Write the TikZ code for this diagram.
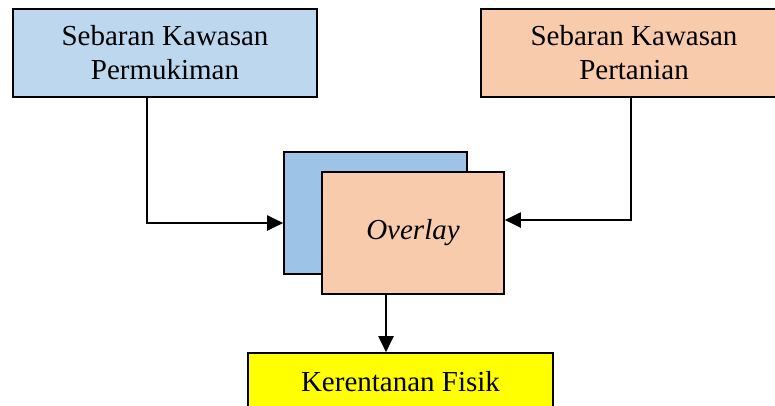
\documentclass[tikz,border=0pt]{standalone}
\usepackage{fontspec}
\setmainfont{Liberation Serif}
\usetikzlibrary{arrows.meta}

\definecolor{biru}{HTML}{BDD7EE}
\definecolor{birutua}{HTML}{9DC3E6}
\definecolor{oranye}{HTML}{F8CBAD}
\definecolor{kuning}{HTML}{FFFF00}

\begin{document}
\begin{tikzpicture}[x=1pt,y=-1pt]
		\tikzset{kotak/.style={draw=black,line width=1.6pt,inner sep=0pt,align=center,
				font=\fontsize{29}{34}\selectfont},
			panah/.style={line width=2pt,-{Triangle[length=16pt,width=15pt]}}}
		\useasboundingbox (0,0) rectangle (775,405);
		\clip (0,0) rectangle (775,405);
		\node [kotak,fill=biru,minimum width=304pt,minimum height=88pt] (permukiman) at (165,53) {Sebaran Kawasan\\Permukiman};
		\node [kotak,fill=oranye,minimum width=306pt,minimum height=88pt] (pertanian) at (634,53) {Sebaran Kawasan\\Pertanian};
		\node [kotak,fill=birutua,minimum width=183pt,minimum height=122pt] (belakang) at (375.5,213) {};
		\node [kotak,fill=oranye,minimum width=182pt,minimum height=122pt] (overlay) at (413,233) {\textit{Overlay}};
		\node [kotak,fill=kuning,minimum width=305pt,minimum height=58pt] (fisik) at (400.5,382) {Kerentanan Fisik};
		\draw [panah] ([xshift=-18pt]permukiman.south) |- ([yshift=-10pt]belakang.west);
		\draw [panah] ([xshift=-3pt]pertanian.south) |- ([yshift=13pt]overlay.east);
		\draw [panah] ([xshift=-27pt]overlay.south) -- ([xshift=-27pt]overlay.south |- fisik.north);
	\end{tikzpicture}
\end{document}
